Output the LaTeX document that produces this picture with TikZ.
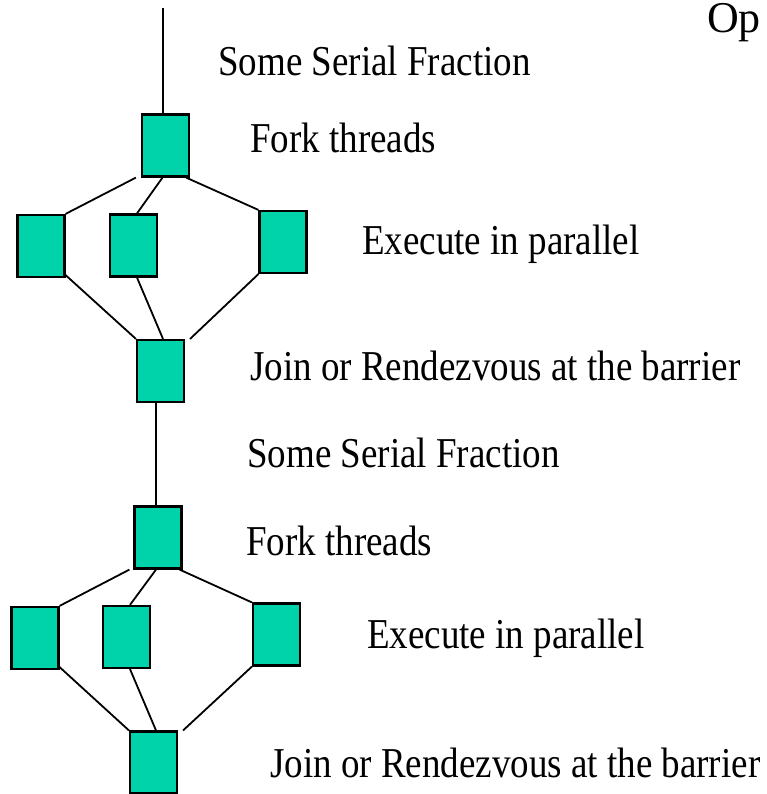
\documentclass[tikz,border=0pt]{standalone}
\usepackage{fontspec}
\setmainfont{Liberation Serif}
\definecolor{threadgreen}{RGB}{0,210,170}
\newcommand{\tallcap}[1]{\scalebox{1}[1.15]{#1}}
\begin{document}
\begin{tikzpicture}[x=1bp,y=-1bp,
  thread/.style={draw=black,line width=2.2bp,fill=threadgreen,
    minimum width=47bp,minimum height=62bp,inner sep=0pt},
  link/.style={draw=black,line width=1.8bp},
  caption/.style={anchor=base west,inner sep=0pt,
    font=\fontsize{37bp}{44bp}\selectfont}]
\useasboundingbox (0,0) rectangle (767,794);
\clip (0,0) rectangle (767,794);

% first fork/join block
\node[thread] (f1) at (165.5,145.5) {};
\node[thread] (a1) at (41,246) {};
\node[thread] (b1) at (133.5,245.5) {};
\node[thread] (c1) at (283,242) {};
\node[thread] (j1) at (160.5,371) {};

% second fork/join block
\node[thread] (f2) at (158,537.5) {};
\node[thread] (a2) at (35,638) {};
\node[thread] (b2) at (126.5,637) {};
\node[thread] (c2) at (276.5,634.5) {};
\node[thread] (j2) at (153.5,762.5) {};

% serial part entering from the top
\coordinate (start) at (163,8);
\draw[link] (start) -- (start |- f1.north);

% fork 1
\draw[link] ([xshift=-5bp]f1.south west) -- (a1.north east);
\draw[link] ([xshift=-3bp]f1.south) -- ([xshift=3.5bp]b1.north);
\draw[link] ([xshift=-4bp]f1.south east) -- (c1.north west);
% join 1
\draw[link] ([yshift=3bp]a1.south east) -- (j1.north west);
\draw[link] ([xshift=3.5bp]b1.south) -- ([xshift=2.5bp]j1.north);
\draw[link] (c1.south west) -- ([xshift=5bp]j1.north east);

% serial part between the blocks
\draw[link] ([xshift=-2bp]f2.north |- j1.south) -- ([xshift=-2bp]f2.north);

% fork 2
\draw[link] ([xshift=-4bp]f2.south west) -- (a2.north east);
\draw[link] ([xshift=-2bp]f2.south) -- ([xshift=3.5bp]b2.north);
\draw[link] ([xshift=-3bp]f2.south east) -- (c2.north west);
% join 2
\draw[link] ([yshift=3bp]a2.south east) -- (j2.north west);
\draw[link] ([xshift=3.5bp]b2.south) -- ([xshift=2.5bp]j2.north);
\draw[link] (c2.south west) -- ([xshift=5bp]j2.north east);

% captions
\node[caption] (t1) at (218,76) {\tallcap{Some Serial Fraction}};
\node[caption] (t2) at (250,152) {\tallcap{Fork threads}};
\node[caption] (t3) at (362,254) {\tallcap{Execute in parallel}};
\node[caption] (t4) at (250,380) {\tallcap{Join or Rendezvous at the barrier}};
\node[caption] (t5) at (247,467) {\tallcap{Some Serial Fraction}};
\node[caption] (t6) at (246,555) {\tallcap{Fork threads}};
\node[caption] (t7) at (367,648) {\tallcap{Execute in parallel}};
\node[caption] (t8) at (270,777) {\tallcap{Join or Rendezvous at the barrier}};
\node[anchor=base west,inner sep=0pt,font=\fontsize{44bp}{52bp}\selectfont]
  (title) at (707,33) {Op};
\end{tikzpicture}
\end{document}
